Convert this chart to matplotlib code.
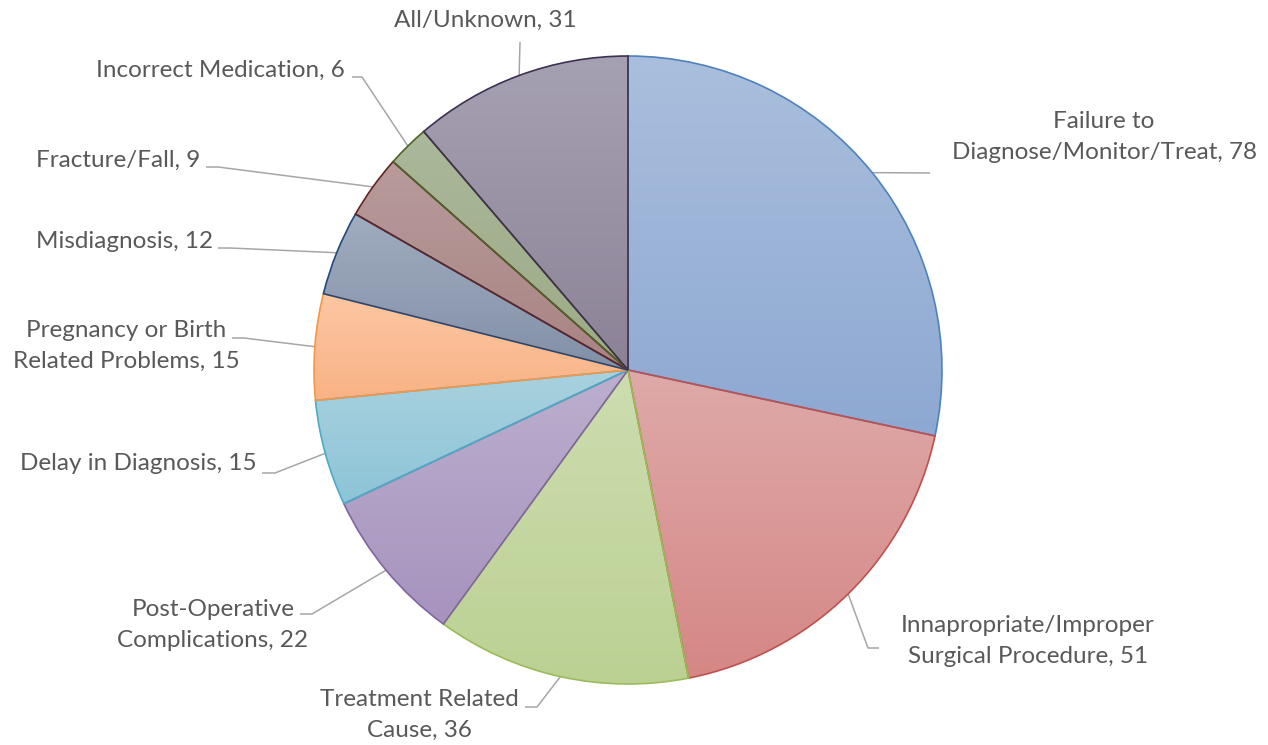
import numpy as np
import matplotlib
matplotlib.use("Agg")
import matplotlib.pyplot as plt
from matplotlib.colors import to_rgb

W, H = 1268, 745

# data
categories = ["Failure to\nDiagnose/Monitor/Treat", "Innapropriate/Improper\nSurgical Procedure",
              "Treatment Related\nCause", "Post-Operative\nComplications", "Delay in Diagnosis",
              "Pregnancy or Birth\nRelated Problems", "Misdiagnosis", "Fracture/Fall",
              "Incorrect Medication", "All/Unknown"]
counts = [78, 51, 36, 22, 15, 15, 12, 9, 6, 31]

# style: gradient top, gradient bottom, outline
top_colors = ["#AABFDD", "#DEAAA9", "#CDDDB0", "#BCAFCE", "#A9D1DE",
              "#FCC7A3", "#A0ACBF", "#B89B9B", "#ABB89B", "#A6A1B2"]
bottom_colors = ["#8DA8D2", "#D58785", "#BBD193", "#A793BE", "#8CC4D7",
                 "#F9B284", "#8290A7", "#A98383", "#9BAA86", "#8C8297"]
edge_colors = ["#4F81BD", "#C0504D", "#9BBB59", "#8064A2", "#4BACC6",
               "#F79646", "#1F497D", "#632523", "#4F6228", "#3F3151"]

# label layout in pixels (x, y of text block, alignment, leader knee)
label_pos = [(1104, 137, "center", (930, 173), None),
             (1028, 641, "center", (879, 648), (868, 648)),
             (419, 715, "center", (525, 707), (537, 707)),
             (213, 625, "center", (300, 614), (312, 614)),
             (257, 463, "right", (262, 473), (275, 473)),
             (126, 346, "center", (232, 338), (244, 338)),
             (213, 241, "right", (218, 248), (230, 248)),
             (200, 160, "right", (206, 167), (218, 167)),
             (345, 70, "right", (352, 77), (362, 77)),
             (485, 20, "center", (520, 42), None)]

cx, cy, R = 628, H - 370, 314

plt.rcParams['font.family'] = ['Lato', 'DejaVu Sans']
fig = plt.figure(figsize=(W / 100, H / 100), dpi=100)
ax = fig.add_axes([0, 0, 1, 1])

wedges, _ = ax.pie(counts, startangle=90, counterclock=False, center=(cx, cy),
                   radius=R, frame=True,
                   wedgeprops=dict(linewidth=1.2, zorder=3))
ax.set_xlim(0, W)
ax.set_ylim(0, H)
ax.set_aspect('equal')
ax.axis('off')

for w, c0, c1, ec in zip(wedges, top_colors, bottom_colors, edge_colors):
    w.set_facecolor('none')
    w.set_edgecolor(ec)
    bb = w.get_path().get_extents()
    a, b = np.array(to_rgb(c0)), np.array(to_rgb(c1))
    t = np.linspace(0, 1, 256)[:, None]
    grad = (a * (1 - t) + b * t)[:, None, :]
    im = ax.imshow(grad, extent=(bb.x0, bb.x1, bb.y0, bb.y1), origin='upper',
                   aspect='auto', zorder=2, interpolation='bilinear')
    im.set_clip_path(w)

ax.set_xlim(0, W)
ax.set_ylim(0, H)

total = sum(counts)
cum = np.cumsum([0] + counts[:-1])
for name, n, c, (lx, ly, ha, knee, knee2) in zip(categories, counts, cum, label_pos):
    ang = np.deg2rad(90 - 360 * (c + n / 2) / total)
    ex, ey = cx + R * np.cos(ang), cy + R * np.sin(ang)
    pts = [knee] + ([knee2] if knee2 else [])
    xs = [p[0] for p in pts] + [ex]
    ys = [H - p[1] for p in pts] + [ey]
    ax.plot(xs, ys, color="#A6A6A6", lw=1.1, zorder=1, solid_capstyle='butt')
    ax.text(lx, H - ly, f"{name}, {n}", ha=ha, va='center', multialignment='center',
            fontsize=17.5, color="#595959", linespacing=1.56)

fig.savefig("out.png", dpi=100, facecolor='white')
